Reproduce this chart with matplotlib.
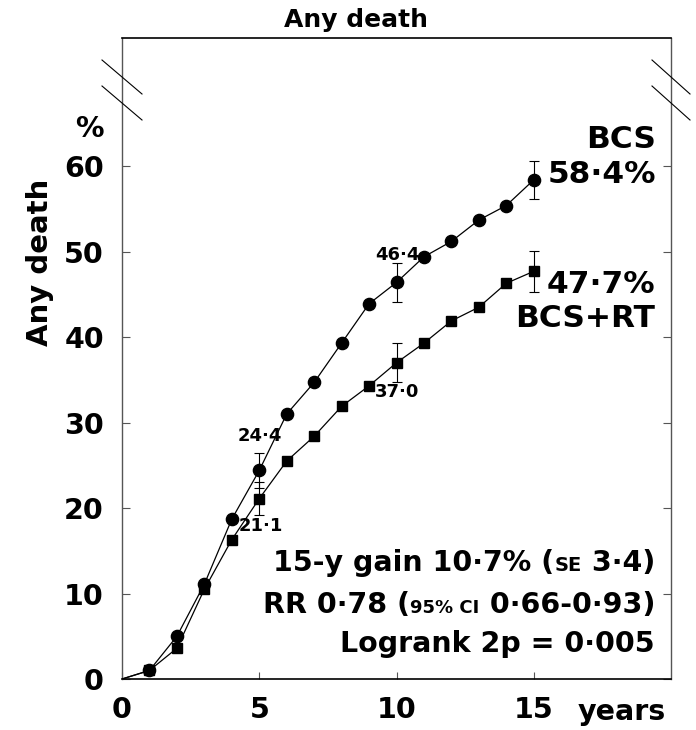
import matplotlib
matplotlib.use("Agg")
import matplotlib.pyplot as plt
from matplotlib.lines import Line2D

plt.rcParams['font.family'] = ['DejaVu Sans']
plt.rcParams['font.weight'] = 'bold'

# ------------------------------
# Data
# ------------------------------
years = [1, 2, 3, 4, 5, 6, 7, 8, 9, 10, 11, 12, 13, 14, 15]
bcs = [1.0, 5.0, 11.1, 18.7, 24.4, 31.0, 34.7, 39.3, 43.9, 46.4, 49.4, 51.2, 53.7, 55.4, 58.4]
bcs_rt = [1.0, 3.6, 10.5, 16.3, 21.1, 25.5, 28.4, 31.9, 34.3, 37.0, 39.3, 41.9, 43.5, 46.3, 47.7]

err_years = [5, 10, 15]
bcs_err = [2.0, 2.3, 2.2]
bcs_rt_err = [1.9, 2.3, 2.4]

x_ticks = [0, 5, 10, 15]
y_ticks = [0, 10, 20, 30, 40, 50, 60]

W, H = 696, 730
fig = plt.figure(figsize=(W / 100, H / 100), dpi=100)
ax = fig.add_axes([122 / W, 1 - 679 / H, (671 - 122) / W, (679 - 38) / H])


def fx(px):
    return px / W


def fy(py):
    return 1 - py / H


# curves (start at the origin, markers only on the yearly points)
marks = list(range(1, len(years) + 1))
ax.plot([0] + years, [0] + bcs, color='black', lw=0.9, marker='o', ms=8.8,
        markevery=marks, zorder=3)
ax.plot([0] + years, [0] + bcs_rt, color='black', lw=0.9, marker='s', ms=7.5,
        markevery=marks, zorder=3)

# error bars
bcs_at = [bcs[years.index(y)] for y in err_years]
rt_at = [bcs_rt[years.index(y)] for y in err_years]
ax.errorbar(err_years, bcs_at, yerr=bcs_err, fmt='none', ecolor='black',
            elinewidth=0.8, capsize=3.5, capthick=0.8, zorder=2)
ax.errorbar(err_years, rt_at, yerr=bcs_rt_err, fmt='none', ecolor='black',
            elinewidth=0.8, capsize=3.5, capthick=0.8, zorder=2)

ax.set_xlim(0, 20)
ax.set_ylim(0, 75)
ax.set_xticks(x_ticks)
ax.set_yticks(y_ticks)
ax.set_xticklabels([str(v) for v in x_ticks], fontsize=20.5, fontweight='bold')
ax.set_yticklabels([str(v) for v in y_ticks], fontsize=20.5, fontweight='bold')
ax.tick_params(axis='y', direction='in', length=6, width=0.8, color='#555555',
               left=True, right=True, pad=13)
ax.tick_params(axis='x', direction='in', length=5, width=0.8, color='#555555',
               bottom=True, top=False, pad=12)

ax.spines['left'].set_color('#555555')
ax.spines['right'].set_color('#555555')
ax.spines['left'].set_linewidth(1.0)
ax.spines['right'].set_linewidth(1.0)
ax.spines['top'].set_linewidth(1.2)
ax.spines['bottom'].set_linewidth(1.2)

# axis break marks
for x0, x1 in [(102, 142), (652, 690)]:
    for y0 in (60, 86):
        fig.add_artist(Line2D([fx(x0), fx(x1)], [fy(y0), fy(y0 + 34)],
                              color='black', lw=0.8))

# titles and labels
fig.text(fx(356), fy(27), "Any death", ha='center', va='baseline', fontsize=18, fontweight='bold')
fig.text(fx(40), fy(262), "Any death", ha='center', va='center', rotation=90,
         fontsize=21, fontweight='bold')
fig.text(fx(104), fy(137), "%", ha='right', va='baseline', fontsize=20.5, fontweight='bold')
fig.text(fx(578), fy(720), "years", ha='left', va='baseline', fontsize=20.5, fontweight='bold')

# group labels
fig.text(fx(656), fy(148), "BCS", ha='right', va='baseline', fontsize=22.5, fontweight='bold')
fig.text(fx(656), fy(183), "58·4%", ha='right', va='baseline', fontsize=22.5, fontweight='bold')
fig.text(fx(655), fy(293), "47·7%", ha='right', va='baseline', fontsize=22.5, fontweight='bold')
fig.text(fx(655), fy(327), "BCS+RT", ha='right', va='baseline', fontsize=22.5, fontweight='bold')

# point labels
fig.text(fx(238), fy(441), "24·4", ha='left', va='baseline', fontsize=13, fontweight='bold')
fig.text(fx(239), fy(531), "21·1", ha='left', va='baseline', fontsize=13, fontweight='bold')
fig.text(fx(375), fy(260), "46·4", ha='left', va='baseline', fontsize=13, fontweight='bold')
fig.text(fx(375), fy(397), "37·0", ha='left', va='baseline', fontsize=13, fontweight='bold')

# mixed-size statistics lines, laid out right to left
renderer = fig.canvas.get_renderer()


def rich_right(x_px, base_px, segments):
    x = x_px
    for txt, size in reversed(segments):
        t = fig.text(fx(x), fy(base_px), txt, ha='right', va='baseline',
                     fontsize=size, fontweight='bold')
        bb = t.get_window_extent(renderer=renderer)
        x -= bb.width


rich_right(655, 571, [("15-y gain 10·7% (", 20.5), ("SE", 14), (" 3·4)", 20.5)])
rich_right(655, 613, [("RR 0·78 (", 20.5), ("95% CI", 13), (" 0·66-0·93)", 20.5)])
rich_right(655, 652, [("Logrank 2p = 0·005", 20.5)])

fig.savefig("out.png", dpi=100)
